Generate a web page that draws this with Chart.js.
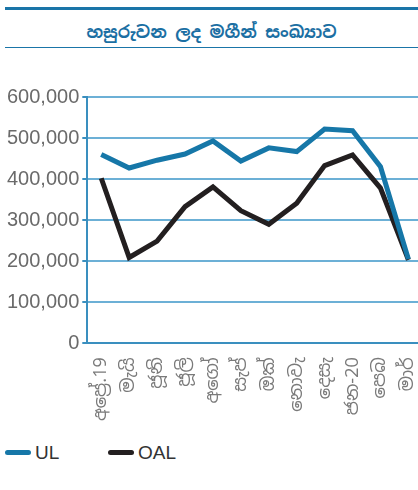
<!DOCTYPE html>
<html>
<head>
	<meta charset="UTF-8">
	<title>Chart</title>
	<script src="https://cdn.jsdelivr.net/npm/chart.js"></script>
	<style>
	html,body{margin:0; padding:0; background:#fff; width:418px; height:490px; overflow:hidden;}
	#title{position:absolute; left:5px; top:7px; width:413px; height:37px; border-top:3px solid #1a75a8; border-bottom:1px solid #1a75a8;
		text-align:center; font-family:"Noto Sans Sinhala","Noto Sans","DejaVu Sans",sans-serif; font-weight:bold; font-size:17px; color:#1b6fa3; line-height:44px; overflow:visible;}
	#box{position:absolute; left:0; top:50px; width:444px; height:385px;}
	#legend{position:absolute; left:5px; top:441px; font-family:"Liberation Sans",Arial,sans-serif; font-size:19px; color:#333;}
	#legend span.item{position:absolute; white-space:nowrap; line-height:24px;}
	#legend span.mark{display:inline-block; width:26px; height:5px; border-radius:3px; vertical-align:middle; margin-right:4px; position:relative; top:-1px;}
	</style>
</head>
<body>
	<div id="title">හසුරුවන ලද මගීන් සංඛ්‍යාව</div>
	<div id="box">
		<canvas id="myChart"></canvas>
	</div>
	<div id="legend"></div>
	<script>
	var months = ['අප්‍රේ.19','මැයි','ජූනි','ජූලි','අගෝ','සැප්','ඔක්','නොවැ','දෙසැ','ජන-20','පෙබ','මාර්'];
	var ulData = [460000, 427000, 446000, 461000, 493000, 444000, 476000, 467000, 522000, 518000, 430000, 205000];
	var oalData = [402000, 209000, 249000, 333000, 381000, 323000, 290000, 341000, 433000, 459000, 378000, 203000];
	var yTicks = [0, 100000, 200000, 300000, 400000, 500000, 600000];
	var seriesNames = ['UL', 'OAL'];
	var seriesColors = ['#1677a8', '#231f20'];

	const ctx = document.getElementById('myChart');
	var chart = new Chart(ctx, {
		type: 'line',
		data: {
			labels: months,
			datasets: [{
				label: seriesNames[0],
				data: ulData,
				borderColor: seriesColors[0],
				backgroundColor: seriesColors[0],
				borderWidth: 5,
				pointRadius: 0,
				tension: 0
			},{
				label: seriesNames[1],
				data: oalData,
				borderColor: seriesColors[1],
				backgroundColor: seriesColors[1],
				borderWidth: 5,
				pointRadius: 0,
				tension: 0
			}]
		},
		options: {
			responsive: true,
			maintainAspectRatio: false,
			animation: false,
			layout: { padding: { top: 47, left: 4, right: 0, bottom: 0 } },
			plugins: {
				tooltip: { enabled: false },
				legend: { display: false }
			},
			scales: {
				x: {
					offset: true,
					grid: { display: false, drawTicks: false },
					border: { color: '#3a8fbf', width: 2 },
					ticks: {
						autoSkip: false,
						minRotation: 90,
						maxRotation: 90,
						padding: 14,
						color: '#7a7a7a',
						font: { family: 'Noto Sans Sinhala, Noto Sans, DejaVu Sans, sans-serif', size: 18 }
					}
				},
				y: {
					min: 0,
					max: 600000,
					afterBuildTicks: function(axis){ axis.ticks = yTicks.map(function(v){ return {value: v}; }); },
					grid: { color: '#6cb0d6', lineWidth: 2, tickLength: 5, tickColor: '#3a8fbf' },
					border: { color: '#3a8fbf', width: 2 },
					ticks: {
						padding: 3,
						color: '#6a6a6a',
						font: { family: 'Liberation Sans, Arial, sans-serif', size: 20 },
						callback: function(v){ return v.toLocaleString('en-US'); }
					}
				}
			}
		}
	});

	// legend drawn in html so the spacing matches
	var legendX = [0, 103];
	var lg = document.getElementById('legend');
	chart.data.datasets.forEach(function(ds, i){
		var it = document.createElement('span');
		it.className = 'item';
		it.style.left = legendX[i] + 'px';
		it.innerHTML = '<span class="mark" style="background:' + ds.borderColor + '"></span>' + ds.label;
		lg.appendChild(it);
	});
	</script>
</body>
</html>
